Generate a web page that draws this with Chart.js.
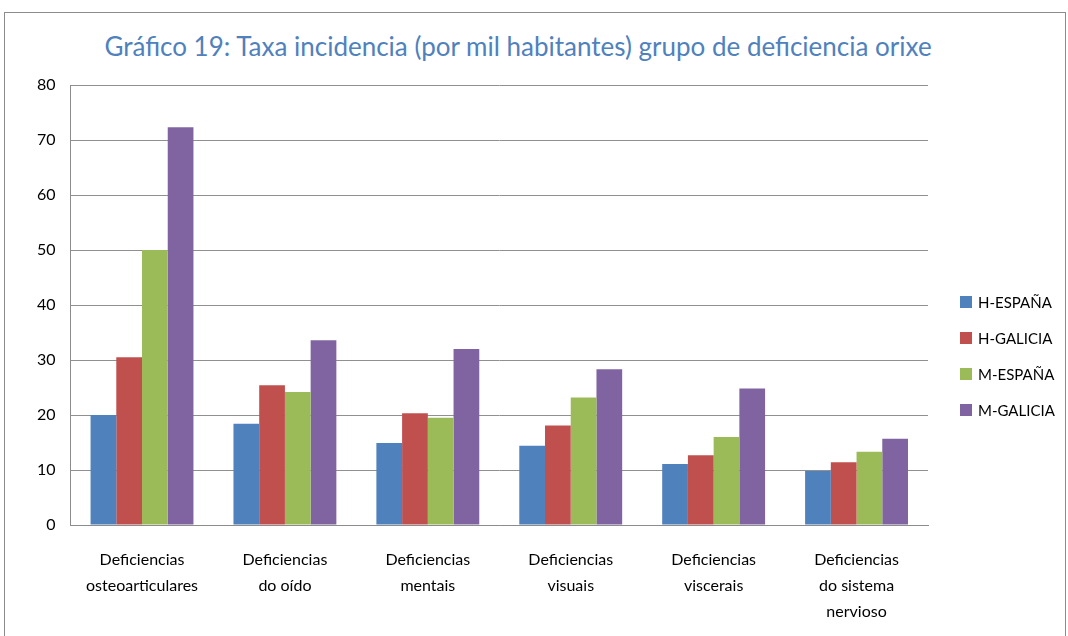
<!DOCTYPE html>
<html lang="gl">
<head>
<meta charset="UTF-8">
<title>Taxa incidencia por grupo de deficiencia</title>
<script src="https://cdn.jsdelivr.net/npm/chart.js"></script>
<style>
  html, body { margin: 0; padding: 0; background: #fff; overflow: hidden; }
  #frame {
    position: absolute; left: 4px; top: 12px;
    width: 1062px; height: 642px;
    border: 1px solid #8c8c8c; box-sizing: border-box;
  }
  #title {
    position: absolute; left: 0; width: 1026px; top: 17px;
    text-align: center; color: #4F81BD;
    font: 26px Lato, sans-serif; white-space: nowrap;
  }
  #chart-box { position: absolute; left: 0; top: 0; width: 1060px; height: 640px; }
  #legend {
    position: absolute; left: 955px; top: 271px;
    font: 15px Lato, sans-serif; color: #000;
  }
  #legend div { height: 36px; display: flex; align-items: center; }
  #legend span.sw { display: inline-block; width: 12px; height: 12px; margin-right: 6px; }
</style>
</head>
<body>
<div id="frame">
  <div id="title">Gráfico 19: Taxa incidencia (por mil habitantes) grupo de deficiencia orixe</div>
  <div id="chart-box"><canvas id="chart" width="1060" height="640"></canvas></div>
  <div id="legend"></div>
</div>

<script>
  const categories = [
    ['Deficiencias', 'osteoarticulares'],
    ['Deficiencias', 'do oído'],
    ['Deficiencias', 'mentais'],
    ['Deficiencias', 'visuais'],
    ['Deficiencias', 'viscerais'],
    ['Deficiencias', 'do sistema', 'nervioso']
  ];
  const seriesNames = ['H-ESPAÑA', 'H-GALICIA', 'M-ESPAÑA', 'M-GALICIA'];
  const hEspana  = [20.0, 18.4, 14.9, 14.4, 11.1, 9.8];
  const hGalicia = [30.5, 25.4, 20.3, 18.1, 12.7, 11.4];
  const mEspana  = [50.0, 24.2, 19.5, 23.2, 16.0, 13.3];
  const mGalicia = [72.3, 33.6, 32.0, 28.3, 24.8, 15.7];
  const yTicks = [0, 10, 20, 30, 40, 50, 60, 70, 80];

  const colors = ['#4F81BD', '#C0504D', '#9BBB59', '#8064A2'];
  const values = [hEspana, hGalicia, mEspana, mGalicia];

  const datasets = seriesNames.map((name, i) => ({
    label: name,
    data: values[i],
    backgroundColor: colors[i],
    borderWidth: 0,
    barPercentage: 1,
    categoryPercentage: 0.72
  }));

  // legend built as plain html so it can sit lower than the plot centre
  const legendEl = document.getElementById('legend');
  seriesNames.forEach((name, i) => {
    const row = document.createElement('div');
    row.innerHTML = `<span class="sw" style="background:${colors[i]}"></span>${name}`;
    legendEl.appendChild(row);
  });

  new Chart(document.getElementById('chart'), {
    type: 'bar',
    data: { labels: categories, datasets },
    options: {
      responsive: false,
      animation: false,
      layout: { padding: { left: 17, right: 137, top: 72, bottom: 6 } },
      plugins: {
        legend: { display: false },
        tooltip: { enabled: false }
      },
      scales: {
        x: {
          grid: { display: false, drawTicks: false },
          border: { color: '#8c8c8c', width: 1 },
          ticks: {
            color: '#000', font: { family: 'Lato, sans-serif', size: 16, lineHeight: 1.625 },
            padding: 22, maxRotation: 0, autoSkip: false
          }
        },
        y: {
          min: 0, max: 80,
          afterBuildTicks: axis => { axis.ticks = yTicks.map(v => ({ value: v })); },
          grid: { color: '#909090', lineWidth: 1, drawTicks: false },
          border: { color: '#8c8c8c', width: 1 },
          ticks: { color: '#000', font: { family: 'Lato, sans-serif', size: 16 }, padding: 15 }
        }
      }
    }
  });
</script>
</body>
</html>
